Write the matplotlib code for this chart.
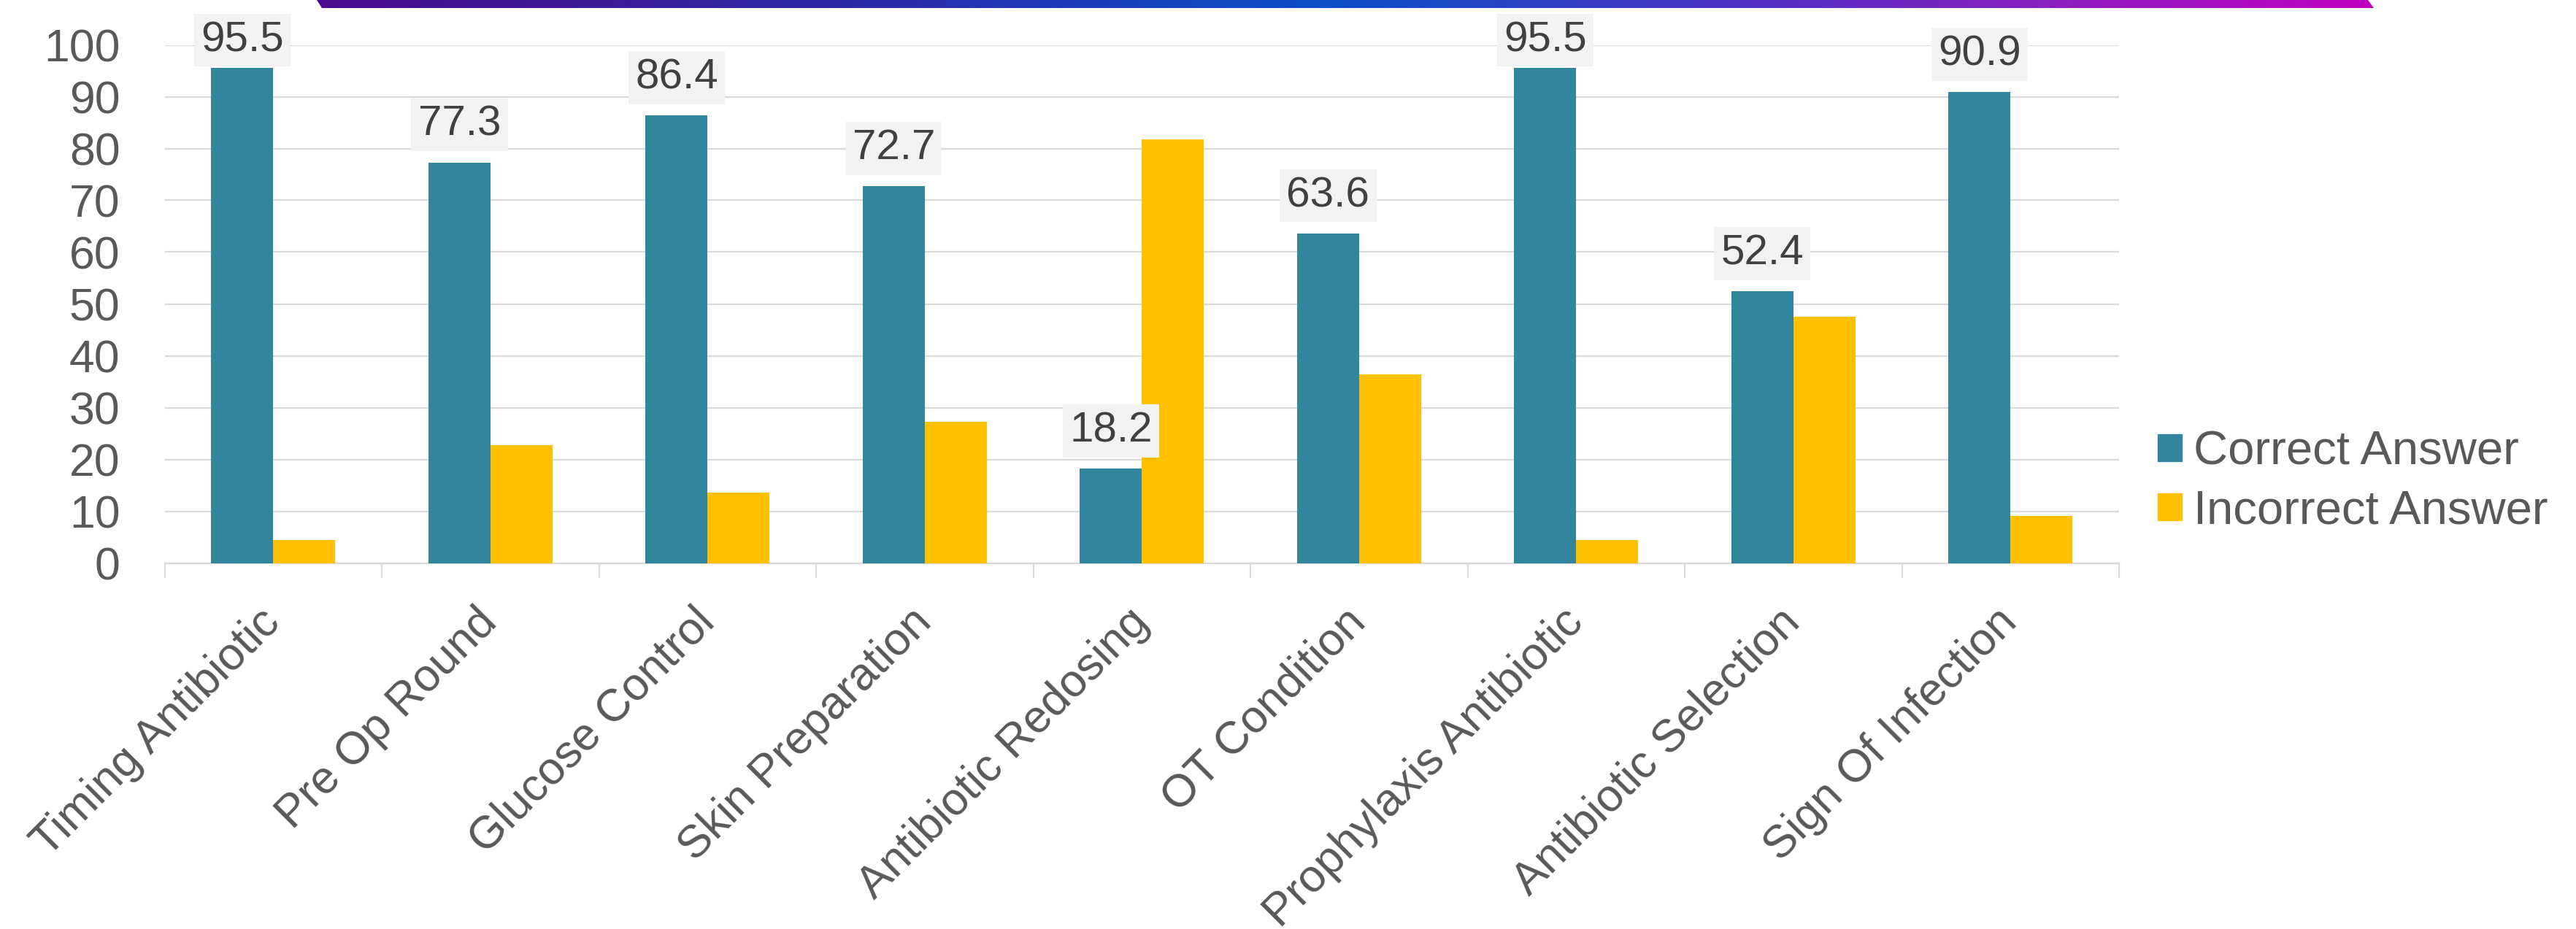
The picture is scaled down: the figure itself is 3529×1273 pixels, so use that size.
import numpy as np
import matplotlib
matplotlib.use("Agg")
import matplotlib.pyplot as plt
from matplotlib.colors import LinearSegmentedColormap
from matplotlib.patches import Polygon, Patch

# data
categories = ["Timing Antibiotic", "Pre Op Round", "Glucose Control", "Skin Preparation",
              "Antibiotic Redosing", "OT Condition", "Prophylaxis Antibiotic",
              "Antibiotic Selection", "Sign Of Infection"]
correct = [95.5, 77.3, 86.4, 72.7, 18.2, 63.6, 95.5, 52.4, 90.9]
incorrect = [4.5, 22.7, 13.6, 27.3, 81.8, 36.4, 4.5, 47.6, 9.1]
series_names = ["Correct Answer", "Incorrect Answer"]
y_ticks = [0, 10, 20, 30, 40, 50, 60, 70, 80, 90, 100]

TEAL = "#31859C"
YELLOW = "#FFC000"
GRID = "#D9D9D9"
TXT = "#595959"

W, H = 3530, 1273
fig = plt.figure(figsize=(W / 100, H / 100), dpi=100)
ax = fig.add_axes([225.7 / W, 1 - 771.5 / H, (2903 - 225.7) / W, (771.5 - 61.5) / H])

x = np.arange(len(categories))
bw = 1 / 3.5  # gap width 150%
ax.bar(x - bw / 2, correct, bw, color=TEAL, zorder=3, label=series_names[0])
ax.bar(x + bw / 2, incorrect, bw, color=YELLOW, zorder=3, label=series_names[1])

ax.set_xlim(-0.5, len(categories) - 0.5)
ax.set_ylim(0, 100)
ax.set_yticks(y_ticks)
ax.yaxis.grid(True, color=GRID, linewidth=1.6, zorder=0)
for s in ["left", "right", "top"]:
    ax.spines[s].set_visible(False)
ax.spines["bottom"].set_color(GRID)
ax.spines["bottom"].set_linewidth(1.6)

ax.tick_params(axis="y", length=0, pad=44, labelsize=45, labelcolor=TXT)
for t in ax.get_yticklabels():
    t.set_fontfamily(["Liberation Sans", "DejaVu Sans"])

# category boundaries as minor ticks, labels at centres
ax.set_xticks(x)
ax.set_xticks(np.arange(len(categories) + 1) - 0.5, minor=True)
ax.tick_params(axis="x", which="major", length=0, pad=52)
ax.tick_params(axis="x", which="minor", length=14.5, width=1.6, color=GRID)
ax.set_xticklabels(categories, rotation=45, ha="right", va="center",
                   rotation_mode="anchor", fontsize=45, color=TXT,
                   family=["Liberation Sans", "DejaVu Sans"])

# value labels on the correct series
for xi, v in zip(x, correct):
    yl = min(v + 7.3, 100.9)
    ax.text(xi - bw / 2, yl, f"{v:.1f}", ha="center", va="center", fontsize=42,
            color="#404040", family=["Liberation Sans Narrow", "Liberation Sans"],
            bbox=dict(boxstyle="square,pad=0.16", fc="#F2F2F2", ec="none"),
            clip_on=False, zorder=5)

handles = [Patch(color=TEAL), Patch(color=YELLOW)]
leg = ax.legend(handles, series_names, loc="center left",
                bbox_to_anchor=(2956 / W, 1 - 660 / H), bbox_transform=fig.transFigure,
                frameon=False, handlelength=0.5, handleheight=0.5,
                handletextpad=0.25, labelspacing=0.32, borderpad=0, borderaxespad=0,
                prop={"family": ["Liberation Sans", "DejaVu Sans"], "size": 47})
for t in leg.get_texts():
    t.set_color(TXT)

# gradient strip along the top edge
over = fig.add_axes([0, 0, 1, 1], zorder=-1)
over.set_xlim(0, W)
over.set_ylim(H, 0)
over.axis("off")
cmap = LinearSegmentedColormap.from_list(
    "strip", [(0, "#4B0A8E"), (0.27, "#2A2AA8"), (0.49, "#0A50C8"),
              (0.70, "#5030C0"), (0.84, "#8A20C0"), (1, "#C000C0")])
grad = np.linspace(0, 1, 512).reshape(1, -1)
im = over.imshow(grad, cmap=cmap, aspect="auto", extent=(434, 3252, 11, 0))
poly = Polygon([(434, 0), (3244, 0), (3252, 11), (441, 11)], closed=True,
               transform=over.transData, fc="none", ec="none")
over.add_patch(poly)
im.set_clip_path(poly)

fig.savefig("out.png", dpi=100)
